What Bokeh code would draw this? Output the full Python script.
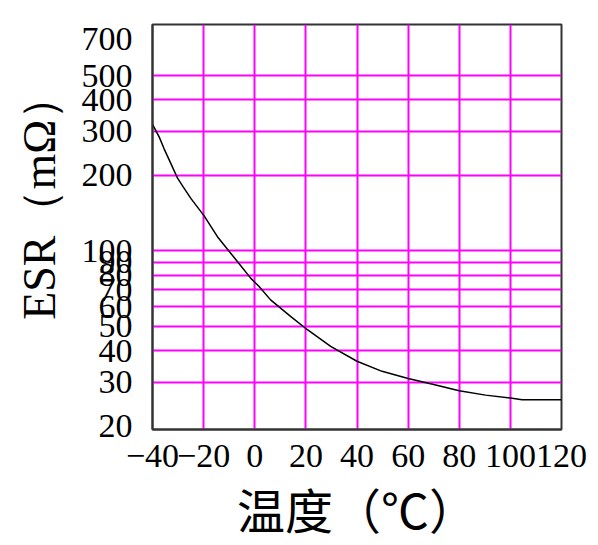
from bokeh.plotting import figure
from bokeh.models import FixedTicker, Title
from bokeh.embed import file_html
from bokeh.resources import INLINE

# Data (temperature in °C, ESR in mΩ)
temp = [-40, -37.4, -35.5, -32.8, -30.2, -28.0, -25.0, -19.8, -14.6, -6.8, -1.6,
        1.7, 6.2, 14, 20.6, 29.7, 40, 49.8, 60, 70, 80, 90.3, 100, 104.6, 120]
esr = [320, 285, 256, 223, 195, 180, 162, 138, 114, 90.7, 77.9,
       72.1, 63.8, 54.8, 48.5, 41.6, 36.3, 33.1, 31.0, 29.3, 27.7, 26.6, 25.9,
       25.5, 25.5]

x_ticks = [-40, -20, 0, 20, 40, 60, 80, 100, 120]
x_tick_labels = ["\u221240", "\u221220", "0", "20", "40", "60", "80", "100", "120"]
y_ticks = [20, 30, 40, 50, 60, 70, 80, 90, 100, 200, 300, 400, 500, 700]
y_tick_labels = ["20", "30", "40", "50", "60", "70", "80", "90", "100",
                 "200", "300", "400", "500", "700"]
x_grid = [-20, 0, 20, 40, 60, 80, 100]
y_grid = [30, 40, 50, 60, 70, 80, 90, 100, 200, 300, 400, 500]

p = figure(width=590, height=545, output_backend="svg", toolbar_location=None,
           x_range=(-40, 120), y_range=(19.4, 800), y_axis_type="log",
           min_border_left=152, min_border_right=29, min_border_top=24,
           min_border_bottom=115)

p.background_fill_color = "white"
p.border_fill_color = "white"
p.outline_line_color = "#333333"
p.outline_line_width = 2

p.xaxis.ticker = FixedTicker(ticks=x_ticks)
p.yaxis.ticker = FixedTicker(ticks=y_ticks)
p.xaxis.major_label_overrides = dict(zip(x_ticks, x_tick_labels))
p.yaxis.major_label_overrides = dict(zip(y_ticks, y_tick_labels))

for ax in (p.xaxis, p.yaxis):
    ax.major_tick_line_color = None
    ax.minor_tick_line_color = None
    ax.major_tick_out = 0
    ax.major_tick_in = 0
    ax.axis_line_color = "#333333"
    ax.axis_line_width = 2
    ax.major_label_text_font = "Liberation Serif"
    ax.major_label_text_font_size = "34px"
    ax.major_label_text_color = "black"
    ax.axis_label_text_font_style = "normal"
    ax.axis_label_text_color = "black"

p.xaxis.major_label_standoff = 15
p.yaxis.major_label_standoff = 20

p.xaxis.axis_label = "温度（℃）"
p.xaxis.axis_label_text_font = "Noto Sans CJK SC"
p.xaxis.axis_label_text_font_size = "48px"
p.xaxis.axis_label_standoff = 3

ytitle = Title(text="ESR（mΩ）", align="right", offset=49, standoff=24,
               vertical_align="top",
               text_font="Liberation Serif", text_font_size="46px",
               text_font_style="normal", text_color="black")
p.add_layout(ytitle, "left")

p.xgrid.ticker = FixedTicker(ticks=x_grid)
p.ygrid.ticker = FixedTicker(ticks=y_grid)
p.xgrid.grid_line_color = "#FF00FF"
p.ygrid.grid_line_color = "#FF00FF"
p.xgrid.grid_line_width = 2
p.ygrid.grid_line_width = 2

p.line(temp, esr, line_color="black", line_width=1.5)

open("out.html", "w").write(file_html(p, INLINE))
